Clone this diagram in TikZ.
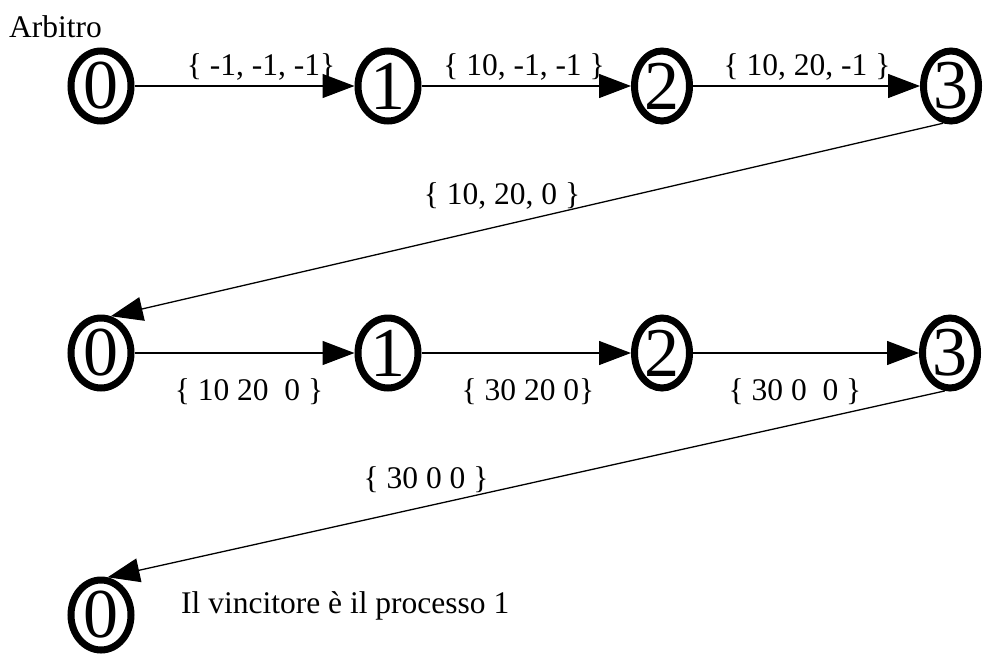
\documentclass[tikz,border=0pt]{standalone}
\usepackage{fontspec}
\setmainfont{Liberation Serif}
\usetikzlibrary{shapes.geometric,arrows.meta}
\tikzset{
  st/.style={ellipse,draw=black,line width=7pt,inner sep=0pt,minimum height=70pt,font=\fontsize{70}{70}\selectfont},
  wide/.style={minimum width=60pt},
  narrow/.style={minimum width=55pt},
  lbl/.style={inner sep=0pt,font=\fontsize{31.5}{32}\selectfont},
  edge/.style={line width=1.3pt,-{Triangle[length=32pt,width=24pt]}}
}
\begin{document}
\begin{tikzpicture}[x=1pt,y=-1pt]
\useasboundingbox (0,0) rectangle (983,654);
% row 1
\node[st,wide]   (a0) at (101,86) {0};
\node[st,wide]   (a1) at (388,86) {1};
\node[st,narrow] (a2) at (662,86) {2};
\node[st,narrow] (a3) at (951,86) {3};
% row 2
\node[st,wide]   (b0) at (101,353) {0};
\node[st,wide]   (b1) at (388,353) {1};
\node[st,narrow] (b2) at (662,353) {2};
\node[st,narrow] (b3) at (950,353) {3};
% row 3
\node[st,wide]   (c0) at (101,615) {0};
% edges
\draw[edge] (a0) -- (a1);
\draw[edge] (a1) -- (a2);
\draw[edge] (a2) -- (a3);
\draw[edge] (a3.258) -- (b0.75);
\draw[edge] (b0) -- (b1);
\draw[edge] (b1) -- (b2);
\draw[edge] (b2) -- (b3);
\draw[edge] (b3.262) -- (c0.80);
% labels
\node[lbl,anchor=base west] (t0) at (9,37) {Arbitro};
\node[lbl,anchor=base] (l1) at (261,75) {\{ -1, -1, -1\}};
\node[lbl,anchor=base] (l2) at (524,75) {\{ 10, -1, -1 \}};
\node[lbl,anchor=base] (l3) at (807,75) {\{ 10, 20, -1 \}};
\node[lbl,anchor=base] (l4) at (502,204) {\{ 10, 20, 0 \}};
\node[lbl,anchor=base] (l5) at (249,400) {\{ 10 20\ \ 0 \}};
\node[lbl,anchor=base] (l6) at (528,400) {\{ 30 20 0\}};
\node[lbl,anchor=base] (l7) at (795,400) {\{ 30 0\ \ 0 \}};
\node[lbl,anchor=base] (l8) at (426,488) {\{ 30 0 0 \}};
\node[lbl,anchor=base west] (t1) at (181,613) {Il vincitore è il processo 1};
\end{tikzpicture}
\end{document}
